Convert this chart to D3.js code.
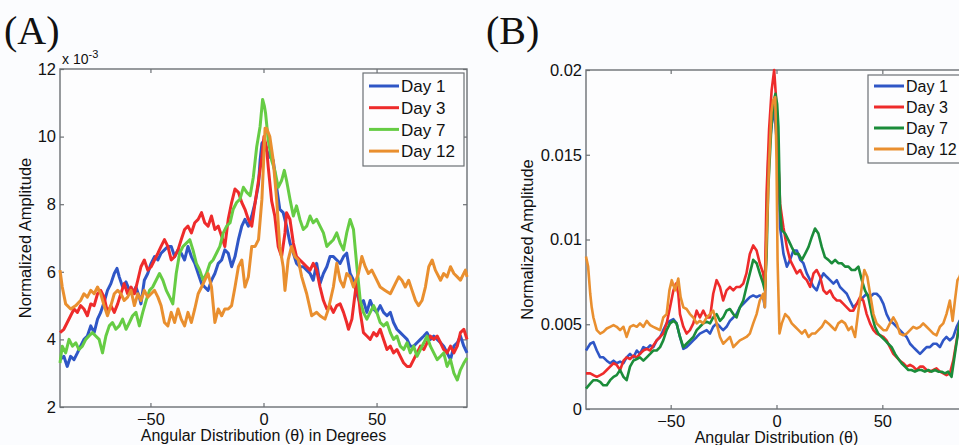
<!DOCTYPE html>
<html>
<head>
<meta charset="utf-8">
<script src="https://cdn.jsdelivr.net/npm/d3@7"></script>
<style>
  html, body { margin: 0; padding: 0; background: #fbfcfe; overflow: hidden; }
  svg { display: block; }
  text { font-family: Arial, "Liberation Sans", sans-serif; fill: #111; }
  .panel-tag { font-family: "Liberation Serif", "Times New Roman", serif; }
</style>
</head>
<body>
<div id="chart"></div>
<script>
// ---- data (degrees, normalized amplitude) ----
const dayNames = ['Day 1', 'Day 3', 'Day 7', 'Day 12'];
const xTicks = [-50, 0, 50];

// panel A values are in units of 1e-3
const aYTicks = [2, 4, 6, 8, 10, 12];
const aDay1 = [[-90,3.4],[-88.3,3.5],[-86.8,3.2],[-85.3,3.5],[-83.8,3.4],[-82.3,3.6],[-80.9,3.8],[-79.4,4.0],[-77.9,4.1],[-76.4,4.4],[-74.9,4.2],[-73.4,4.6],[-72,4.8],[-70.5,5.1],[-69,5.45],[-67.5,5.65],[-66,5.95],[-64.8,6.1],[-63.8,5.85],[-62.3,5.55],[-60.8,5.7],[-59.3,5.45],[-57.9,5.35],[-56.4,5.55],[-54.9,5.25],[-54.2,5.05],[-52.7,5.75],[-51.2,5.95],[-49.7,6.25],[-48.2,6.45],[-46.7,6.35],[-45.3,6.55],[-43.8,6.65],[-42.3,6.75],[-40.8,6.75],[-39.3,6.45],[-37.8,6.65],[-36.4,6.55],[-34.9,6.35],[-33.4,6.75],[-31.9,6.45],[-30.4,6.25],[-28.9,5.95],[-27.4,5.65],[-26,5.55],[-24.5,5.45],[-23,5.75],[-21.5,5.95],[-20,6.25],[-18.5,6.35],[-17.1,6.65],[-15.6,6.55],[-14.1,6.15],[-12.6,6.45],[-11.1,6.95],[-9.6,7.35],[-8.2,7.55],[-6.7,7.35],[-5.2,7.65],[-3.7,8.05],[-2.2,8.6],[-1.5,9.3],[-0.7,9.8],[0.3,9.9],[1.3,9.6],[2.8,9.4],[4.3,9.3],[5.8,8.5],[7.2,7.85],[8.7,7.75],[10.2,7.35],[11.7,6.85],[13.2,6.55],[14.6,6.25],[16.1,6.15],[17.6,6.15],[19.1,6.05],[20.6,5.95],[22,5.75],[23.5,6.25],[25,5.65],[26.5,5.95],[28,6.15],[29.4,6.45],[30.9,6.45],[32.4,6.35],[33.9,6.25],[35.4,6.45],[36.8,6.55],[38.3,5.95],[39.8,5.75],[41.3,5.35],[42.8,5.05],[44.2,5.15],[45.7,4.8],[47.2,5.15],[48.7,4.9],[50.1,4.8],[51.6,5.0],[53.1,4.8],[54.6,4.7],[56.1,4.8],[57.5,4.5],[59,4.3],[60.5,4.2],[62,4.1],[63.5,4.0],[64.9,3.8],[66.4,3.8],[67.9,3.9],[69.4,4.0],[70.9,4.1],[72.3,4.2],[73.8,4.0],[75.3,4.1],[76.8,4.0],[78.3,3.9],[79.7,3.8],[81.2,3.6],[82.7,3.4],[84.2,3.8],[85.7,3.9],[87.1,4.1],[88.6,3.8],[90,3.6]];
const aDay3 = [[-90,4.2],[-88.3,4.3],[-86.8,4.5],[-85.3,4.7],[-83.8,4.9],[-82.3,4.8],[-80.9,5.0],[-79.4,4.9],[-77.9,4.7],[-76.4,5.05],[-74.9,5.0],[-73.4,5.35],[-72,5.45],[-70.5,5.25],[-69,4.8],[-67.5,5.0],[-66,4.8],[-64.5,5.05],[-63.1,5.35],[-61.6,5.65],[-60.1,5.35],[-58.6,5.55],[-57.1,5.35],[-55.6,5.75],[-54.2,6.15],[-52.7,6.35],[-51.2,6.05],[-49.7,6.15],[-48.2,6.35],[-46.7,6.55],[-45.3,6.75],[-43.8,6.95],[-42.3,6.75],[-40.8,6.35],[-39.3,6.45],[-37.8,6.65],[-36.4,6.95],[-34.9,7.25],[-33.4,7.35],[-31.9,7.15],[-30.4,7.45],[-28.9,7.55],[-27.4,7.75],[-26,7.45],[-24.5,7.35],[-23,7.65],[-21.5,7.25],[-20,7.35],[-18.5,7.05],[-17.1,6.75],[-15.6,7.55],[-14.1,8.05],[-12.6,8.45],[-11.1,8.35],[-9.6,8.05],[-8.2,7.85],[-6.7,7.55],[-5.2,7.35],[-3.7,8.05],[-2.2,8.7],[-0.7,9.4],[0.2,10.0],[1.3,9.7],[2.1,9.1],[3.6,8.1],[5,7.65],[6.5,6.75],[8,6.45],[9.5,7.15],[10.2,7.75],[11.7,7.55],[13.2,6.85],[14.6,6.45],[16.1,6.35],[17.6,6.25],[19.1,6.15],[20.6,6.05],[22,6.25],[23.5,6.05],[25,5.55],[26.5,5.15],[28,4.9],[29.4,5.0],[30.9,4.8],[32.4,5.0],[33.9,5.05],[35.4,4.8],[36.8,4.5],[37.6,4.3],[39.1,4.6],[40.5,5.35],[41.3,5.75],[42.8,4.8],[44.2,4.2],[45.7,4.1],[47.2,4.0],[48.7,4.2],[50.1,4.1],[51.6,4.3],[53.1,4.0],[54.6,3.7],[56.1,3.8],[57.5,3.6],[59,3.7],[60.5,3.5],[62,3.3],[63.5,3.2],[64.9,3.2],[66.4,3.4],[67.9,3.6],[69.4,3.8],[70.9,3.7],[72.3,3.9],[73.8,4.1],[75.3,4.0],[76.8,4.1],[78.3,3.9],[79.7,3.7],[81.2,3.6],[82.7,3.8],[84.2,3.6],[85.7,3.8],[87.1,4.2],[88.6,4.3],[90,4.0]];
const aDay7 = [[-90,3.3],[-89,3.8],[-87.5,3.6],[-86,4.0],[-84.5,3.8],[-83,3.9],[-81.6,3.7],[-80.1,3.8],[-78.6,4.0],[-77.2,4.1],[-75.7,4.2],[-74.2,4.1],[-72.7,4.0],[-71.2,3.6],[-69.7,4.1],[-68.2,4.4],[-66.8,4.5],[-65.3,4.3],[-63.8,4.4],[-62.3,4.6],[-60.8,4.3],[-59.3,4.5],[-57.9,4.7],[-56.4,4.8],[-54.9,4.4],[-53.4,4.8],[-51.9,5.15],[-50.4,5.45],[-49,5.55],[-47.5,5.75],[-46,5.95],[-44.5,5.75],[-43,5.45],[-41.5,5.25],[-40.1,5.05],[-38.6,5.95],[-37.1,6.55],[-35.6,6.75],[-34.1,6.85],[-32.6,6.95],[-31.2,6.65],[-29.7,6.25],[-28.2,6.05],[-26.7,5.75],[-25.2,5.95],[-23.7,6.25],[-22.3,6.35],[-20.8,6.55],[-19.3,6.75],[-17.8,7.15],[-16.3,7.35],[-14.8,7.45],[-13.4,7.85],[-11.9,8.05],[-10.4,8.15],[-8.9,8.5],[-7.4,8.35],[-5.9,8.25],[-4.5,8.8],[-3,9.7],[-1.5,10.3],[-0.4,11.1],[0.4,10.9],[0.9,10.7],[2.1,9.9],[3.6,9.3],[5,9.0],[6.5,8.5],[8,8.7],[9.2,9.0],[10.2,8.7],[11.7,8.15],[13.2,7.65],[14.6,7.95],[16.1,7.55],[17.6,7.25],[19.1,7.35],[20.6,7.65],[22,7.45],[23.5,7.55],[25,7.35],[26.5,7.15],[28,6.75],[29.4,6.85],[30.9,6.95],[32.4,7.15],[33.9,6.85],[35.4,6.65],[36.8,7.15],[38.3,7.55],[39.8,7.25],[41.3,6.15],[42.8,5.15],[44.2,4.8],[45.7,4.6],[47.2,4.8],[48.7,5.0],[50.1,4.8],[51.6,4.5],[53.1,4.4],[54.6,4.5],[56.1,4.2],[57.5,4.0],[59,4.1],[60.5,3.8],[62,3.7],[63.5,3.9],[64.9,3.6],[66.4,3.8],[67.9,3.5],[69.4,3.7],[70.9,3.9],[72.3,4.1],[73.8,3.8],[75.3,3.6],[76.8,3.4],[78.3,3.5],[79.7,3.6],[81.2,3.2],[82.7,3.4],[84.2,3.0],[85.7,2.8],[87.1,3.1],[88.6,3.3],[90,3.45]];
const aDay12 = [[-90,6.05],[-89,5.55],[-87.5,5.05],[-85.3,4.9],[-83,5.0],[-80.9,5.15],[-79.4,5.35],[-77.9,5.25],[-76.4,5.45],[-74.9,5.35],[-73.4,5.55],[-72,5.35],[-70.5,5.0],[-69,4.7],[-67.5,5.0],[-66,5.35],[-64.5,5.45],[-63.1,5.35],[-61.6,5.15],[-60.1,5.25],[-58.6,5.45],[-57.1,5.0],[-55.6,5.35],[-54.2,5.15],[-52.7,5.45],[-51.2,5.25],[-49.7,5.35],[-48.2,5.45],[-46.7,5.25],[-45.3,5.0],[-43.8,4.5],[-42.3,4.4],[-40.8,4.8],[-39.3,4.5],[-37.8,4.9],[-36.4,4.6],[-34.9,4.4],[-33.4,4.8],[-31.9,4.5],[-30.4,4.9],[-28.9,5.35],[-27.4,5.55],[-26,5.75],[-24.5,5.95],[-23,5.55],[-21.5,4.5],[-20,4.9],[-18.5,4.7],[-17.1,4.9],[-15.6,4.9],[-14.1,5.0],[-12.6,5.55],[-11.1,6.15],[-9.6,6.35],[-8.2,5.55],[-6.7,5.85],[-5.2,6.75],[-3.7,6.75],[-2.2,6.95],[-0.7,8.15],[0.7,10.25],[1.3,10.25],[2.8,10.0],[4.3,9.3],[5.8,8.15],[7.2,6.75],[8.7,6.15],[9.5,5.45],[10.9,6.35],[12.4,6.75],[13.9,6.45],[15.4,6.35],[16.9,5.85],[19.1,5.35],[21.3,4.7],[23.5,4.8],[25,4.7],[27.2,4.6],[28.7,4.9],[30.9,5.55],[32.4,6.25],[33.9,5.75],[35.4,5.55],[36.8,5.95],[38.3,5.85],[39.8,5.55],[42,5.95],[43.5,6.45],[45,6.15],[46.4,5.95],[47.9,6.05],[49.4,5.85],[51.6,5.55],[53.8,5.45],[56.1,5.35],[58.3,5.65],[59.8,5.85],[61.2,5.75],[62.7,5.55],[64.2,5.75],[65.7,5.45],[67.2,5.15],[68.6,5.0],[70.1,5.15],[71.6,5.55],[73.1,6.15],[74.6,6.35],[76,6.05],[78.3,5.75],[79.7,5.95],[81.2,5.85],[82.7,6.15],[84.2,5.95],[85.7,5.85],[87.1,5.75],[89.3,6.05],[90,5.85]];

// panel B values are absolute (listed here in units of 1e-3)
const bYTicks = [0, 0.005, 0.01, 0.015, 0.02];
const bYTickLabels = ['0', '0.005', '0.01', '0.015', '0.02'];
const bDay1 = [[-90,3.45],[-88,3.85],[-86.5,3.95],[-84.9,3.45],[-83.3,3.05],[-81.8,3.05],[-80.2,2.85],[-78.6,2.7],[-77,2.85],[-75.5,2.7],[-73.9,2.8],[-72.3,2.7],[-70.8,3.05],[-69.2,3.25],[-67.6,3.05],[-66,3.45],[-64.5,3.25],[-62.9,3.65],[-61.3,3.55],[-59.7,3.75],[-58.2,3.65],[-56.6,4.05],[-55,4.25],[-53.5,4.65],[-51.9,5.05],[-50.3,5.2],[-48.7,5.3],[-47.2,5.05],[-45.6,4.25],[-44,3.55],[-42.5,3.65],[-40.9,3.85],[-39.3,4.05],[-37.7,4.25],[-36.2,4.45],[-34.6,4.55],[-33,4.65],[-31.4,4.45],[-29.9,4.85],[-28.3,5.05],[-26.7,4.85],[-25.2,4.65],[-23.6,4.85],[-22,5.2],[-20.4,5.4],[-18.9,5.6],[-17.3,6.0],[-15.7,6.2],[-14.2,6.4],[-12.6,6.6],[-11,6.7],[-9.4,6.6],[-7.9,6.7],[-6.3,6.6],[-5.5,6.0],[-4.7,10.7],[-3.9,14.7],[-2.4,16.65],[-1.2,17.8],[0,16.0],[0.9,14.7],[1.7,10.7],[2.5,9.95],[3.3,9.15],[4.9,8.4],[6.4,8.8],[8,9.35],[9.6,9.35],[11.2,8.8],[12.7,8.6],[14.3,8.0],[15.9,7.6],[17.5,7.2],[19,7.0],[20.6,7.6],[22.2,8.0],[23.7,7.8],[25.3,7.6],[26.9,7.4],[28.5,7.6],[30,7.2],[31.6,7.0],[33.2,6.8],[34.7,6.4],[36.3,6.0],[37.9,6.2],[39.5,6.4],[41,6.6],[42.6,6.8],[44.2,6.6],[45.8,6.8],[47.3,6.8],[48.9,6.6],[50.5,6.2],[52,5.6],[53.6,5.2],[55.2,5.05],[56.8,4.85],[58.3,4.65],[59.9,4.45],[61.5,4.25],[63.1,3.85],[64.6,3.65],[66.2,3.45],[67.8,3.25],[69.3,3.45],[70.9,3.65],[72.5,3.65],[74.1,3.85],[75.6,3.85],[77.2,3.65],[78.8,4.05],[80.3,4.25],[81.9,4.05],[83.5,4.25],[85.1,4.85],[86.5,5.2],[88,5.0],[90,4.8]];
const bDay3 = [[-90,2.1],[-88,2.1],[-86.5,2.0],[-84.9,1.9],[-83.3,2.0],[-81.8,2.1],[-80.2,2.3],[-78.6,2.5],[-77,2.7],[-75.5,2.6],[-73.9,2.3],[-72.3,2.85],[-70.8,3.05],[-69.2,2.95],[-67.6,3.15],[-66,3.05],[-64.5,3.25],[-62.9,3.45],[-61.3,3.55],[-59.7,3.45],[-58.2,3.75],[-56.6,4.05],[-55,4.25],[-53.5,4.45],[-51.9,5.05],[-50.3,6.0],[-48.7,7.0],[-47.5,7.4],[-46.4,6.8],[-45.6,5.6],[-44,4.85],[-42.5,4.45],[-40.9,4.65],[-39.3,5.05],[-37.7,5.8],[-36.2,5.4],[-34.6,5.8],[-33,5.4],[-31.4,5.4],[-29.9,6.8],[-28.3,7.6],[-26.7,7.2],[-25.2,6.4],[-23.6,7.0],[-22,7.2],[-20.4,7.0],[-18.9,7.2],[-17.3,7.2],[-15.7,7.4],[-14.2,8.0],[-12.6,9.15],[-11,9.65],[-9.4,9.35],[-7.9,8.6],[-6.3,8.0],[-5.5,7.2],[-4.7,12.7],[-3.5,16.5],[-2.3,18.8],[-1.1,20.0],[-0.3,18.5],[0.5,15.7],[1.7,12.1],[3.3,10.7],[4.9,9.55],[6.4,8.8],[8,8.4],[9.6,8.0],[11.2,8.2],[12.7,7.8],[14.3,7.6],[15.9,7.2],[17.5,8.0],[19,8.2],[20.6,7.8],[22.2,7.0],[23.7,6.8],[25.3,7.0],[26.9,6.6],[28.5,6.4],[30,6.4],[31.6,6.2],[33.2,6.0],[34.7,5.8],[36.3,5.8],[37.9,6.2],[39.5,6.6],[41,6.4],[42.6,5.6],[44.2,5.05],[45.8,4.65],[47.3,4.45],[48.9,4.35],[50.5,4.25],[52,4.05],[53.6,3.65],[55.2,3.25],[56.8,3.05],[58.3,2.85],[59.9,2.7],[61.5,2.5],[63.1,2.6],[64.6,2.5],[66.2,2.3],[67.8,2.5],[69.3,2.5],[70.9,2.3],[72.5,2.2],[74.1,2.3],[75.6,2.4],[77.2,2.2],[78.8,2.1],[80.3,2.0],[81.9,2.1],[83.5,2.85],[85.1,4.05],[86.2,4.85],[88,5.5],[90,5.8]];
const bDay7 = [[-90,1.2],[-88,1.5],[-86.5,1.7],[-84.9,1.7],[-83.3,1.6],[-81.8,1.4],[-80.2,1.4],[-78.6,1.7],[-77,1.9],[-75.5,2.0],[-73.9,2.3],[-72.3,1.9],[-70.8,1.7],[-69.2,2.5],[-67.6,2.85],[-66,2.95],[-64.5,3.05],[-62.9,2.85],[-61.3,3.05],[-59.7,3.25],[-58.2,3.45],[-56.6,3.45],[-55,3.65],[-53.5,4.05],[-51.9,4.65],[-50.3,5.05],[-48.7,5.2],[-47.2,5.05],[-45.6,4.25],[-44,3.65],[-42.5,3.85],[-40.9,4.05],[-39.3,4.25],[-37.7,4.65],[-36.2,4.85],[-34.6,5.05],[-33,5.15],[-31.4,5.05],[-29.9,5.4],[-28.3,5.6],[-26.7,5.2],[-25.2,5.4],[-23.6,5.8],[-22,5.9],[-20.4,5.6],[-18.9,5.4],[-17.3,6.0],[-15.7,6.4],[-14.2,7.2],[-12.6,8.0],[-11,8.8],[-9.4,8.6],[-7.9,8.0],[-6.3,7.4],[-5.5,7.0],[-4.7,9.0],[-3.9,13.0],[-2.5,16.5],[-1.3,18.2],[-0.5,18.6],[0.3,18.0],[0.9,16.65],[1.7,11.7],[2.5,10.55],[4.1,10.35],[5.7,9.95],[7.2,9.55],[8.8,9.15],[10.4,9.15],[12,8.8],[13.5,9.15],[15.1,9.55],[16.7,10.15],[18.2,10.65],[19.8,10.35],[21.4,9.55],[22.9,8.95],[24.5,8.8],[26.1,8.6],[27.7,8.8],[29.2,8.6],[30.8,8.6],[32.4,8.4],[34,8.4],[35.5,8.2],[37.1,8.2],[38.7,8.4],[40.3,7.6],[41.8,7.0],[43.4,6.6],[45,5.6],[46.5,4.85],[48.1,4.45],[49.7,4.25],[51.3,4.05],[52.8,3.85],[54.4,3.65],[56,3.25],[57.6,2.95],[59.1,2.7],[60.7,2.5],[62.3,2.3],[63.8,2.3],[65.4,2.2],[67,2.3],[68.5,2.3],[70.1,2.2],[71.7,2.3],[73.3,2.2],[74.9,2.3],[76.4,2.2],[78,2.2],[79.6,2.1],[81.1,2.2],[82.7,1.9],[84.3,3.25],[86.2,4.85],[88,6.0],[90,6.5]];
const bDay12 = [[-90,9.0],[-89,8.4],[-88,6.8],[-87.3,6.0],[-86.5,5.4],[-84.9,4.65],[-83.3,4.45],[-81.8,4.55],[-80.2,4.75],[-78.6,4.85],[-77,4.95],[-75.5,4.85],[-73.9,4.65],[-72.3,4.85],[-70.8,4.25],[-69.2,4.85],[-67.6,4.95],[-66,4.85],[-64.5,5.05],[-62.9,4.85],[-61.3,5.2],[-59.7,4.95],[-58.2,4.85],[-56.6,4.75],[-55,4.65],[-53.5,5.4],[-51.9,5.6],[-50.6,7.0],[-49.5,7.6],[-47.9,7.0],[-46.4,7.7],[-45.3,6.6],[-44,6.0],[-42.5,5.9],[-40.9,5.6],[-39.3,5.4],[-37.7,5.05],[-36.2,5.2],[-34.6,5.05],[-33,5.4],[-31.4,5.6],[-29.9,5.8],[-28.3,5.05],[-26.7,4.25],[-25.2,3.85],[-23.6,4.05],[-22,4.25],[-20.4,3.65],[-18.9,3.85],[-17.3,4.05],[-15.7,4.15],[-14.2,4.25],[-12.6,4.45],[-11,5.05],[-9.4,5.6],[-7.9,6.4],[-6.3,6.8],[-5.5,6.0],[-4.7,10.0],[-3.5,14.5],[-2.4,17.5],[-1.6,18.2],[-0.6,18.4],[0,14.7],[0.5,8.8],[1.4,4.45],[2.5,5.05],[4.1,5.6],[5.7,5.4],[7.2,5.05],[8.8,4.85],[10.4,4.65],[12,4.45],[13.5,4.65],[15.1,4.25],[16.7,4.45],[18.2,4.45],[19.8,4.65],[21.4,4.85],[23,5.2],[24.5,5.05],[26.1,4.85],[27.7,4.65],[29.2,5.05],[30.8,5.2],[32.4,5.05],[34,4.65],[35.5,4.85],[37.1,4.25],[38.7,5.8],[40.3,7.2],[41.5,8.2],[42.9,7.8],[44.2,6.8],[45.8,5.6],[47.3,5.05],[48.9,4.85],[50.5,4.65],[52,4.65],[53.6,5.05],[55.2,5.4],[56.8,5.05],[58.3,4.45],[59.9,4.35],[61.5,4.45],[63.1,4.65],[64.6,4.85],[66.2,4.75],[67.8,4.85],[69.3,5.05],[70.9,4.85],[72.5,4.65],[74.1,4.45],[75.6,4.35],[77.2,4.85],[78.8,5.05],[80.3,5.6],[81.9,6.4],[83.2,5.2],[84.3,6.4],[85.5,7.6],[86.5,7.8],[88,8.5],[90,9.0]];

// ---- layout ----
const width = 959, height = 445;
const svg = d3.select('#chart').append('svg')
    .attr('width', width)
    .attr('height', height);

const panels = [
    {
        tag: '(A)', tagX: 4, tagY: 44,
        left: 60, right: 467, top: 69, bottom: 407,
        yDomain: [2, 12], yTicks: aYTicks, yFmt: d => d,
        series: [aDay1, aDay3, aDay7, aDay12],
        scale: 1,
        colors: ['#2f56c6', '#ee2b2b', '#66cc44', '#e98f2f'],
        lineWidth: 3,
        xLabel: 'Angular Distribution (\u03b8) in Degrees', xLabelY: 441,
        yLabelX: 31,
        legend: {x: 363, y: 73, w: 101, h: 93, row0: 86, rowStep: 21.7, font: 17},
        exponent: true
    },
    {
        tag: '(B)', tagX: 486, tagY: 44,
        left: 586, right: 967, top: 70, bottom: 409,
        yDomain: [0, 0.02], yTicks: bYTicks, yFmt: (d, i) => bYTickLabels[i],
        series: [bDay1, bDay3, bDay7, bDay12],
        scale: 1e-3,
        colors: ['#2f56c6', '#ee2b2b', '#1b8c3a', '#e98f2f'],
        lineWidth: 2.6,
        xLabel: 'Angular Distribution (\u03b8)', xLabelY: 443,
        yLabelX: 533,
        legend: {x: 868, y: 75, w: 110, h: 88, row0: 86, rowStep: 21, font: 16},
        exponent: false
    }
];

panels.forEach(p => {
    const g = svg.append('g');
    const x = d3.scaleLinear().domain([-90, 90]).range([p.left, p.right]);
    const y = d3.scaleLinear().domain(p.yDomain).range([p.bottom, p.top]);

    // panel tag
    g.append('text')
        .attr('class', 'panel-tag')
        .attr('x', p.tagX)
        .attr('y', p.tagY)
        .attr('font-size', 40)
        .text(p.tag);

    // frame
    g.append('rect')
        .attr('x', p.left).attr('y', p.top)
        .attr('width', p.right - p.left).attr('height', p.bottom - p.top)
        .attr('fill', '#fdfdfe')
        .attr('stroke', '#6c7074')
        .attr('stroke-width', 1.4);

    // ticks inside on all four sides
    const tickStyle = sel => {
        sel.select('.domain').remove();
        sel.selectAll('.tick line').attr('stroke', '#6c7074').attr('stroke-width', 1.2);
        sel.selectAll('.tick text').attr('font-size', 16.5).attr('fill', '#111');
    };
    g.append('g').attr('transform', `translate(0,${p.bottom})`)
        .call(d3.axisBottom(x).tickValues(xTicks).tickSizeInner(-4).tickSizeOuter(0).tickPadding(6))
        .call(tickStyle);
    g.append('g').attr('transform', `translate(0,${p.top})`)
        .call(d3.axisTop(x).tickValues(xTicks).tickSizeInner(-4).tickSizeOuter(0).tickFormat(''))
        .call(tickStyle);
    g.append('g').attr('transform', `translate(${p.left},0)`)
        .call(d3.axisLeft(y).tickValues(p.yTicks).tickSizeInner(-4).tickSizeOuter(0).tickPadding(4).tickFormat(p.yFmt))
        .call(tickStyle);
    g.append('g').attr('transform', `translate(${p.right},0)`)
        .call(d3.axisRight(y).tickValues(p.yTicks).tickSizeInner(-4).tickSizeOuter(0).tickFormat(''))
        .call(tickStyle);
    g.selectAll('text').attr('font-family', null);

    // exponent label for panel A
    if (p.exponent) {
        const t = g.append('text').attr('x', p.left + 2).attr('y', p.top - 5).attr('font-size', 14);
        t.append('tspan').text('x 10');
        t.append('tspan').attr('dy', -6).attr('font-size', 11).text('-3');
    }

    // axis labels
    g.append('text')
        .attr('x', (p.left + p.right) / 2)
        .attr('y', p.xLabelY)
        .attr('text-anchor', 'middle')
        .attr('font-size', 16)
        .text(p.xLabel);
    g.append('text')
        .attr('transform', `translate(${p.yLabelX},${(p.top + p.bottom) / 2}) rotate(-90)`)
        .attr('text-anchor', 'middle')
        .attr('font-size', 16.5)
        .text('Normalized Amplitude');

    // lines
    const line = d3.line()
        .x(d => x(d[0]))
        .y(d => y(d[1] * p.scale));
    p.series.forEach((s, i) => {
        g.append('path')
            .datum(s)
            .attr('fill', 'none')
            .attr('stroke', p.colors[i])
            .attr('stroke-width', p.lineWidth)
            .attr('stroke-linejoin', 'round')
            .attr('d', line);
    });

    // legend
    const L = p.legend;
    const lg = g.append('g');
    lg.append('rect')
        .attr('x', L.x).attr('y', L.y).attr('width', L.w).attr('height', L.h)
        .attr('fill', '#fdfdfe').attr('stroke', '#6c7074').attr('stroke-width', 1.2);
    dayNames.forEach((name, i) => {
        const ry = L.row0 + i * L.rowStep;
        lg.append('line')
            .attr('x1', L.x + 6).attr('x2', L.x + 36)
            .attr('y1', ry).attr('y2', ry)
            .attr('stroke', p.colors[i]).attr('stroke-width', 3);
        lg.append('text')
            .attr('x', L.x + 38).attr('y', ry + L.font * 0.36)
            .attr('font-size', L.font)
            .text(name);
    });
});
</script>
</body>
</html>
